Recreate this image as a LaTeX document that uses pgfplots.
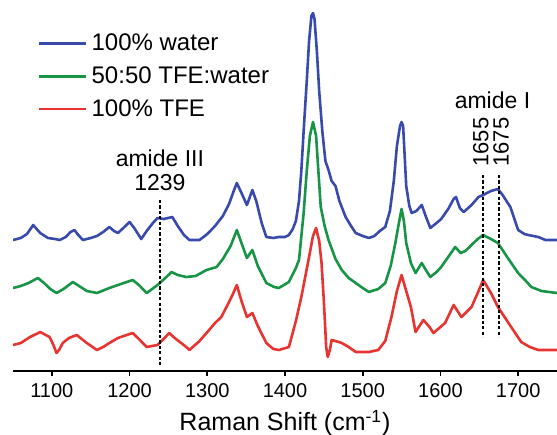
\documentclass[border=0pt]{standalone}
\usepackage{fontspec}
\setmainfont{Liberation Sans}
\usepackage{pgfplots}
\pgfplotsset{compat=1.18}

\definecolor{cwater}{RGB}{56,74,172}
\definecolor{cmix}{RGB}{24,148,70}
\definecolor{ctfe}{RGB}{232,52,48}

\begin{document}
\begin{tikzpicture}
\useasboundingbox (-6.5pt,-31.5pt) rectangle (272pt,185.5pt);
\begin{axis}[
  width=272pt, height=185.5pt, scale only axis,
  xmin=1050, xmax=1750, ymin=0, ymax=371,
  axis x line=bottom, axis y line=none,
  x axis line style={-, line width=1pt},
  xtick={1100,1200,...,1700}, ytick=\empty,
  tick align=outside, major tick length=2.5pt,
  xtick style={black, line width=0.8pt},
  ticklabel style={font=\fontsize{10}{12}\selectfont},
  /pgf/number format/assume math mode=true,
  /pgf/number format/1000 sep={},
  xlabel={Raman Shift (cm\textsuperscript{-1})},
  xlabel style={at={(axis description cs:0.5,0)}, anchor=center, yshift=-26pt,
                font=\fontsize{12.5}{15}\selectfont},
  legend style={at={(axis cs:1074,346)}, anchor=north west, draw=none, fill=none,
                font=\fontsize{12}{14.4}\selectfont, row sep=2.6pt,
                nodes={inner sep=2pt}},
  legend cell align=left,
  legend image code/.code={\draw[#1] (0pt,0pt) -- (23.5pt,0pt);},
  every axis plot/.append style={line width=1.3pt, no markers, line join=round},
]
% 100% water
\addplot[cwater] table {
1050 131
1060 133
1068 137
1076 146
1085 138
1095 133
1104 132
1110 131
1118 134
1124 139
1129 141
1134 136
1140 131
1150 133
1158 135
1166 139
1174 144
1180 140
1185 138
1192 143
1200 149
1206 143
1215 132
1222 140
1230 148
1236 153
1244 152
1255 154
1262 145
1270 136
1277 131
1290 131
1300 137
1310 145
1320 155
1328 167
1334 180
1338 188
1344 178
1351 166
1358 181
1363 170
1370 148
1376 134
1385 133
1392 134
1400 134
1405 136
1410 142
1414 150
1418 170
1421 200
1424 240
1428 290
1431 330
1434 355
1436 358
1438 352
1441 320
1444 280
1448 240
1452 210
1456 201
1460 190
1465 185
1470 170
1478 154
1485 145
1491 138
1500 135
1508 133
1515 135
1522 140
1529 144
1535 160
1540 190
1544 225
1548 245
1550 249
1552 245
1556 185
1560 165
1563 158
1569 160
1576 166
1581 155
1587 143
1595 148
1601 152
1610 162
1617 172
1620 174
1625 163
1630 159
1640 166
1649 174
1655 176
1665 180
1674 182
1680 176
1690 164
1700 141
1708 137
1713 136
1726 134
1735 131
1750 131
};
\addlegendentry{100\% water}
% 50:50 TFE:water
\addplot[cmix] table {
1050 83
1060 85
1070 88
1082 93
1090 88
1098 82
1106 78
1115 82
1127 89
1135 85
1145 80
1158 78
1174 83
1185 86
1204 91
1212 86
1222 78
1236 86
1246 93
1254 99
1262 96
1273 94
1285 95
1299 101
1312 104
1320 112
1330 125
1338 141
1344 128
1351 113
1358 121
1365 105
1376 88
1386 84
1392 83
1405 89
1414 103
1418 111
1424 158
1428 200
1432 235
1436 249
1440 235
1446 164
1451 145
1456 131
1465 112
1473 101
1482 93
1491 88
1500 83
1508 79
1520 82
1529 88
1536 105
1542 128
1547 150
1550 162
1553 150
1556 128
1562 108
1568 98
1576 108
1582 100
1587 94
1595 99
1601 104
1610 114
1619 124
1626 118
1632 120
1640 126
1648 132
1655 136
1665 132
1674 128
1685 115
1700 98
1710 90
1717 84
1730 80
1750 78
};
\addlegendentry{50:50 TFE:water}
% 100% TFE
\addplot[ctfe] table {
1050 26
1060 28
1072 34
1085 39
1097 34
1102 26
1106 18
1110 22
1114 28
1122 33
1132 36
1145 28
1158 21
1166 24
1174 28
1185 33
1204 38
1212 32
1222 24
1236 26
1245 33
1251 38
1258 33
1273 24
1277 21
1290 30
1299 38
1310 48
1318 54
1326 66
1333 77
1338 86
1344 70
1351 54
1358 58
1365 45
1376 28
1385 22
1392 21
1405 24
1414 50
1421 74
1430 110
1436 135
1440 143
1444 130
1447 108
1450 70
1453 24
1455 14
1458 22
1460 31
1465 30
1473 28
1482 24
1491 19
1508 19
1520 21
1529 30
1537 54
1544 80
1550 96
1556 80
1562 64
1568 39
1578 51
1586 44
1591 38
1600 44
1606 48
1617 66
1622 60
1627 54
1640 64
1648 78
1655 91
1665 78
1674 64
1691 44
1704 29
1715 24
1726 21
1750 21
};
\addlegendentry{100\% TFE}
% band markers
\draw[black, line width=0.8pt, dash pattern=on 1.6pt off 1.1pt] (axis cs:1239,171) -- (axis cs:1239,6);
\draw[black, line width=0.8pt, dash pattern=on 1.6pt off 1.1pt] (axis cs:1655,196) -- (axis cs:1655,34);
\draw[black, line width=0.8pt, dash pattern=on 1.6pt off 1.1pt] (axis cs:1675,196) -- (axis cs:1675,34);
\node[font=\fontsize{11.5}{13.8}\selectfont, inner sep=0pt] at (axis cs:1239,213) {amide III};
\node[font=\fontsize{11.5}{13.8}\selectfont, inner sep=0pt] at (axis cs:1239,188) {1239};
\node[font=\fontsize{11.5}{13.8}\selectfont, inner sep=0pt] at (axis cs:1667,271) {amide I};
\node[font=\fontsize{11}{13}\selectfont, inner sep=0pt, rotate=90] at (axis cs:1652,229) {1655};
\node[font=\fontsize{11}{13}\selectfont, inner sep=0pt, rotate=90] at (axis cs:1678,229) {1675};
\end{axis}
\end{tikzpicture}
\end{document}
